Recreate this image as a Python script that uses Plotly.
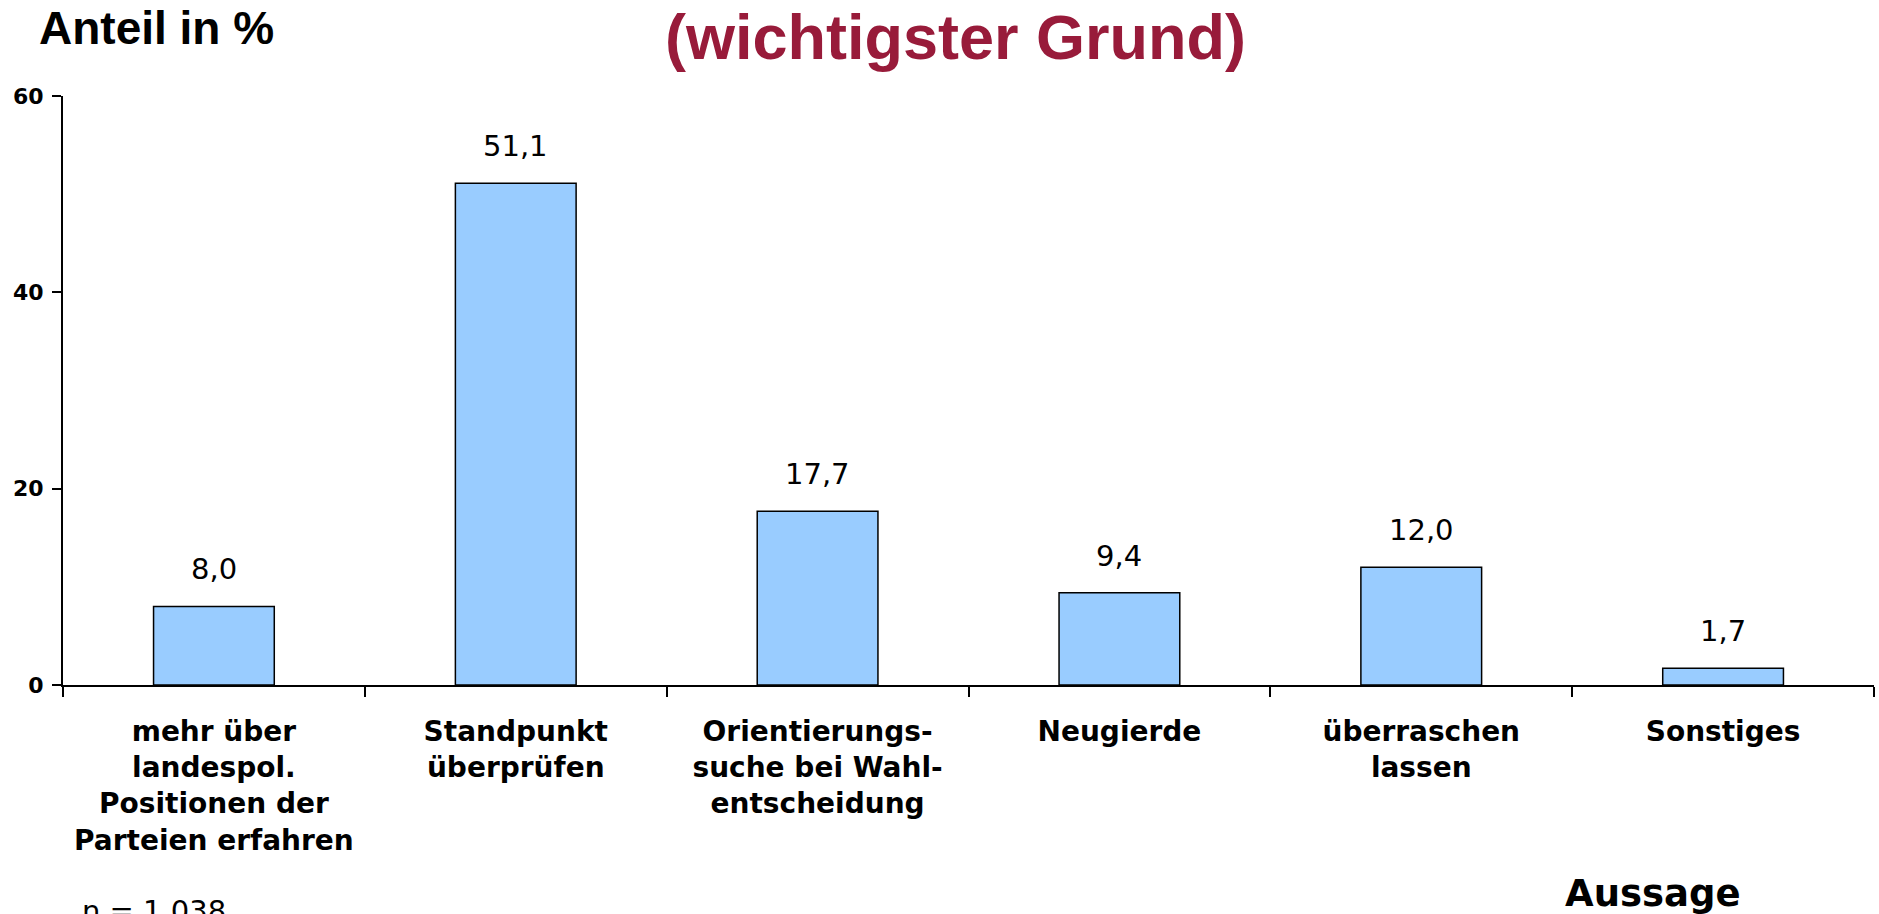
import plotly.graph_objects as go

categories = ["mehr über landespol. Positionen der Parteien erfahren", "Standpunkt überprüfen",
              "Orientierungssuche bei Wahlentscheidung", "Neugierde", "überraschen lassen", "Sonstiges"]
tick_labels = ["mehr über<br>landespol.<br>Positionen der<br>Parteien erfahren",
               "Standpunkt<br>überprüfen",
               "Orientierungs-<br>suche bei Wahl-<br>entscheidung",
               "Neugierde",
               "überraschen<br>lassen",
               "Sonstiges"]
values = [8.0, 51.1, 17.7, 9.4, 12.0, 1.7]
value_labels = [f"{v:.1f}".replace(".", ",") for v in values]
y_ticks = [0, 20, 40, 60]

W, H = 1879, 914
L, R, T, B = 63, 5, 96, 229
plot_h = H - T - B

def py(p):
    return (H - B - p) / plot_h

def px(p):
    return (p - L) / (W - L - R)

fig = go.Figure()
fig.add_trace(go.Bar(
    x=categories, y=values, width=0.4,
    marker=dict(color="#99CCFF", line=dict(color="black", width=1.5)),
    hoverinfo="skip",
))

for c, v, t in zip(categories, values, value_labels):
    fig.add_annotation(x=c, y=v, text=t, showarrow=False, yanchor="bottom", yshift=18,
                       font=dict(family="DejaVu Sans", size=29, color="black"))

fig.add_annotation(xref="paper", yref="paper", x=px(955), y=py(37), text="(wichtigster Grund)",
                   showarrow=False, xanchor="center", yanchor="middle",
                   font=dict(family="Liberation Sans", size=63, color="#981B3A", weight="bold"))
fig.add_annotation(xref="paper", yref="paper", x=px(37), y=py(28), text="Anteil in %",
                   showarrow=False, xanchor="left", yanchor="middle",
                   font=dict(family="Liberation Sans", size=46, color="black", weight="bold"))
fig.add_annotation(xref="paper", yref="paper", x=px(1653), y=py(893), text="Aussage",
                   showarrow=False, xanchor="center", yanchor="middle",
                   font=dict(family="DejaVu Sans", size=37, color="black", weight="bold"))
fig.add_annotation(xref="paper", yref="paper", x=px(80), y=py(911), text="n = 1.038",
                   showarrow=False, xanchor="left", yanchor="middle",
                   font=dict(family="DejaVu Sans", size=29, color="black"))

fig.update_layout(
    width=W, height=H,
    margin=dict(l=L, r=R, t=T, b=B, pad=0),
    plot_bgcolor="white", paper_bgcolor="white",
    showlegend=False,
    bargap=0.6,
)
fig.update_xaxes(
    type="category", tickvals=categories, ticktext=tick_labels,
    showline=True, linecolor="black", linewidth=2,
    ticks="outside", tickson="boundaries", ticklen=10, tickwidth=2, tickcolor="black",
    tickfont=dict(family="DejaVu Sans", size=28, color="black", weight="bold"),
    showgrid=False, zeroline=False, ticklabelstandoff=20,
)
fig.update_yaxes(
    range=[0, 60], tickvals=y_ticks,
    showline=True, linecolor="black", linewidth=2,
    ticks="outside", ticklen=9, tickwidth=2, tickcolor="black",
    tickfont=dict(family="DejaVu Sans", size=22, color="black", weight="bold"),
    showgrid=False, zeroline=False, ticklabelstandoff=4,
)

fig.write_html("out.html", config={"displayModeBar": False},
               post_script="document.body.style.margin='0';document.body.style.overflow='hidden';")
